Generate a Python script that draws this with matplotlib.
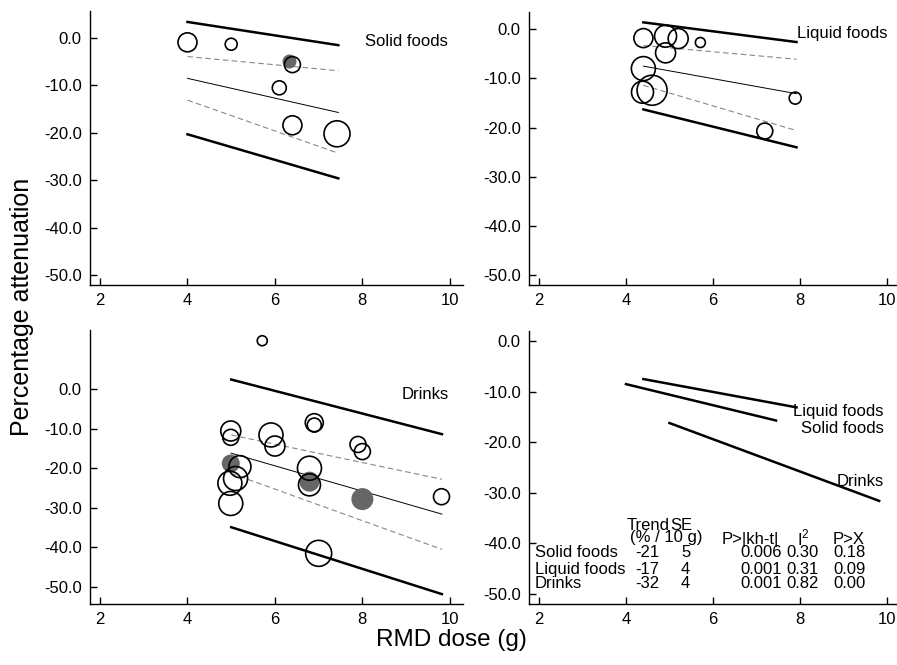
import matplotlib.pyplot as plt
import numpy as np

plt.rcParams['font.family'] = ['Liberation Sans', 'DejaVu Sans']
plt.rcParams['axes.unicode_minus'] = False
plt.rcParams['mathtext.fontset'] = 'custom'
plt.rcParams['mathtext.rm'] = 'Liberation Sans'

# ---- solid foods (open circles, gray = filled study); w = bubble radius (study weight)
solid_x = [4.0, 5.0, 6.4, 6.1, 6.4, 7.42]
solid_y = [-0.9, -1.3, -5.6, -10.5, -18.4, -20.2]
solid_w = [9.5, 6, 8, 7, 9.5, 13]
solid_gx = [6.33]
solid_gy = [-4.8]
solid_gw = [7]
solid_lx = [4.0, 7.45]
solid_fit = [-8.5, -15.7]
solid_ci_hi = [-3.9, -6.9]
solid_ci_lo = [-13.1, -24.3]
solid_pi_hi = [3.4, -1.5]
solid_pi_lo = [-20.3, -29.6]

# ---- liquid foods
liquid_x = [4.40, 4.91, 5.20, 5.71, 4.91, 4.40, 4.38, 4.60, 7.89, 7.19]
liquid_y = [-1.8, -1.4, -1.9, -2.7, -4.8, -8.0, -12.8, -12.4, -14.0, -20.7]
liquid_w = [9.5, 11, 10, 5, 10, 12, 11, 15, 6, 8]
liquid_lx = [4.4, 7.92]
liquid_fit = [-7.5, -13.1]
liquid_ci_hi = [-3.3, -6.1]
liquid_ci_lo = [-11.4, -20.6]
liquid_pi_hi = [1.4, -2.6]
liquid_pi_lo = [-16.3, -24.0]

# ---- drinks
drinks_x = [5.71, 4.99, 4.99, 5.91, 6.0, 6.9, 6.9, 7.9, 8.0, 5.2, 5.1, 4.97, 4.99, 6.79, 6.79, 9.81, 7.0]
drinks_y = [12.2, -10.6, -12.2, -11.6, -14.4, -8.5, -9.1, -14.0, -15.8, -19.6, -22.6, -23.8, -28.9,
            -20.0, -24.2, -27.2, -41.5]
drinks_w = [5, 10, 8, 12, 10, 9, 7, 8, 8, 11, 12, 12, 12, 12, 11, 8, 13]
drinks_gx = [4.99, 6.79, 8.0]
drinks_gy = [-18.8, -23.4, -27.8]
drinks_gw = [9, 10, 11]
drinks_lx = [5.0, 9.82]
drinks_fit = [-16.2, -31.6]
drinks_ci_hi = [-11.6, -22.8]
drinks_ci_lo = [-21.3, -40.5]
drinks_pi_hi = [2.4, -11.4]
drinks_pi_lo = [-34.9, -51.8]

# ---- summary table
tab_rows = ['Solid foods', 'Liquid foods', 'Drinks']
tab_trend = ['-21', '-17', '-32']
tab_se = ['5', '4', '4']
tab_pkh = ['0.006', '0.001', '0.001']
tab_i2 = ['0.30', '0.31', '0.82']
tab_px = ['0.18', '0.09', '0.00']

xticks = [2, 4, 6, 8, 10]
yticks = [0, -10, -20, -30, -40, -50]


def sz(w):
    return (1.44 * np.array(w)) ** 2


def style(ax, xlim, ylim):
    ax.set_xlim(*xlim)
    ax.set_ylim(*ylim)
    for s in ['top', 'right']:
        ax.spines[s].set_visible(False)
    for s in ['left', 'bottom']:
        ax.spines[s].set_linewidth(1.0)
    ax.set_xticks(xticks)
    ax.set_yticks(yticks)
    ax.set_yticklabels(['%.1f' % v for v in yticks])
    ax.tick_params(direction='in', length=5, width=1, labelsize=12, pad=6)


def panel(ax, x, y, w, gx, gy, gw, lx, fit, cih, cil, pih, pil):
    if gx:
        ax.scatter(gx, gy, s=sz(gw), color='#666666', linewidths=0, zorder=2)
    ax.plot(lx, pih, color='black', lw=1.8, zorder=1)
    ax.plot(lx, pil, color='black', lw=1.8, zorder=1)
    ax.plot(lx, fit, color='black', lw=0.7, zorder=1)
    ax.plot(lx, cih, color='#888888', lw=0.8, dashes=(5, 3), zorder=1)
    ax.plot(lx, cil, color='#888888', lw=0.8, dashes=(5, 3), zorder=1)
    ax.scatter(x, y, s=sz(w), facecolors='none', edgecolors='black', linewidths=1.2, zorder=3)


fig = plt.figure(figsize=(8.97, 6.65), dpi=100)
ax1 = fig.add_axes([0.1003, 0.5714, 0.4158, 0.412])
ax2 = fig.add_axes([0.5897, 0.5714, 0.4103, 0.4105])
ax3 = fig.add_axes([0.1003, 0.0917, 0.4158, 0.412])
ax4 = fig.add_axes([0.5897, 0.0917, 0.4103, 0.4105])

panel(ax1, solid_x, solid_y, solid_w, solid_gx, solid_gy, solid_gw,
      solid_lx, solid_fit, solid_ci_hi, solid_ci_lo, solid_pi_hi, solid_pi_lo)
style(ax1, (1.77, 10.3), (-52.1, 5.7))
ax1.text(8.05, -0.8, 'Solid foods', fontsize=12, va='center', ha='left')

panel(ax2, liquid_x, liquid_y, liquid_w, [], [], [],
      liquid_lx, liquid_fit, liquid_ci_hi, liquid_ci_lo, liquid_pi_hi, liquid_pi_lo)
style(ax2, (1.77, 10.23), (-52.0, 3.5))
ax2.text(7.93, -0.9, 'Liquid foods', fontsize=12, va='center', ha='left')

panel(ax3, drinks_x, drinks_y, drinks_w, drinks_gx, drinks_gy, drinks_gw,
      drinks_lx, drinks_fit, drinks_ci_hi, drinks_ci_lo, drinks_pi_hi, drinks_pi_lo)
style(ax3, (1.77, 10.3), (-54.3, 14.9))
ax3.text(8.89, -1.3, 'Drinks', fontsize=12, va='center', ha='left')

# combined trend lines
ax4.plot(liquid_lx, liquid_fit, color='black', lw=1.8)
ax4.plot(solid_lx, solid_fit, color='black', lw=1.8)
ax4.plot(drinks_lx, drinks_fit, color='black', lw=1.8)
style(ax4, (1.77, 10.23), (-52.0, 2.0))
ax4.text(9.92, -14.0, 'Liquid foods', fontsize=12, va='center', ha='right')
ax4.text(9.92, -17.3, 'Solid foods', fontsize=12, va='center', ha='right')
ax4.text(9.92, -27.8, 'Drinks', fontsize=12, va='center', ha='right')

# table
tk = dict(fontsize=12, va='center', ha='center')
ax4.text(4.5, -36.4, 'Trend', **tk)
ax4.text(5.27, -36.4, 'SE', **tk)
ax4.text(4.92, -38.9, '(% / 10 g)', **tk)
ax4.text(6.85, -39.2, 'P>|kh-t|', **tk)
ax4.text(8.08, -39.0, r'I$^\mathrm{2}$', **tk)
ax4.text(9.12, -39.2, 'P>X', **tk)
row_y = [-41.9, -45.1, -48.0]
for i in range(3):
    ax4.text(1.91, row_y[i], tab_rows[i], fontsize=12, va='center', ha='left')
    ax4.text(4.48, row_y[i], tab_trend[i], **tk)
    ax4.text(5.37, row_y[i], tab_se[i], **tk)
    ax4.text(7.1, row_y[i], tab_pkh[i], **tk)
    ax4.text(8.05, row_y[i], tab_i2[i], **tk)
    ax4.text(9.13, row_y[i], tab_px[i], **tk)

fig.text(22 / 897, 1 - 307 / 665, 'Percentage attenuation', fontsize=18, rotation=90,
         ha='center', va='center')
fig.text(451 / 897, 1 - 640 / 665, 'RMD dose (g)', fontsize=17.5, ha='center', va='center')

fig.savefig('out.png', dpi=100)
